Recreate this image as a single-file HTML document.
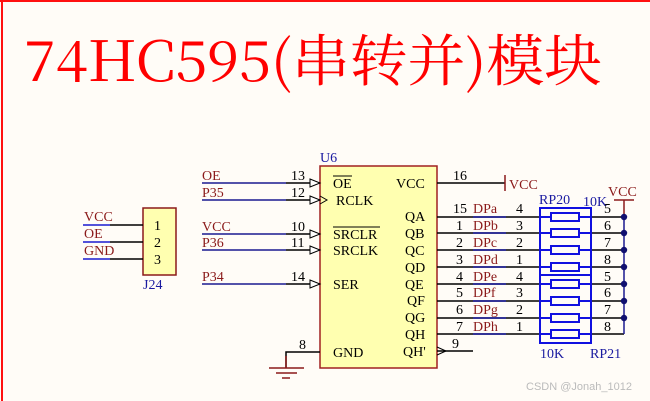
<!DOCTYPE html>
<html><head><meta charset="utf-8"><style>
html,body{margin:0;padding:0;background:#fffcf7;}
svg{display:block;}
.t{font-family:"Liberation Serif","Noto Serif CJK SC",serif;}
</style></head><body>
<svg width="650" height="401" viewBox="0 0 650 401" xmlns="http://www.w3.org/2000/svg">
<rect width="650" height="401" fill="#fffcf7"/>
<line x1="0" y1="1" x2="650" y2="1" stroke="#ff1010" stroke-width="2"/>
<line x1="2" y1="0" x2="2" y2="401" stroke="#ff1010" stroke-width="2"/>
<text x="24" y="81" font-family="Noto Serif CJK SC, serif" font-size="56" fill="#ff0000" textLength="578" lengthAdjust="spacingAndGlyphs">74HC595(串转并)模块</text>

<rect x="320" y="166" width="117" height="202" fill="#ffffb0" stroke="#a02020" stroke-width="1.5"/>
<text class="t" x="320" y="162" font-size="14" fill="#1a1aa0">U6</text>

<g class="t" font-size="14" fill="#000">
<text x="333" y="188">OE</text>
<line x1="333" y1="176" x2="352" y2="176" stroke="#000" stroke-width="1"/>
<text x="336" y="205">RCLK</text>
<text x="333" y="239">SRCLR</text>
<line x1="333" y1="227" x2="380" y2="227" stroke="#000" stroke-width="1"/>
<text x="333" y="255">SRCLK</text>
<text x="333" y="289">SER</text>
<text x="333" y="357">GND</text>
<text x="396" y="188">VCC</text>
<text x="405" y="221">QA</text>
<text x="405" y="238">QB</text>
<text x="405" y="255">QC</text>
<text x="405" y="272">QD</text>
<text x="405" y="289">QE</text>
<text x="407" y="305">QF</text>
<text x="405" y="322">QG</text>
<text x="405" y="339">QH</text>
<text x="403" y="356">QH'</text>
</g>

<g stroke-width="1.5" fill="none">
<line x1="202" y1="183" x2="286" y2="183" stroke="#1a1a90"/>
<line x1="286" y1="183" x2="320" y2="183" stroke="#000"/>
<line x1="202" y1="200" x2="286" y2="200" stroke="#1a1a90"/>
<line x1="286" y1="200" x2="320" y2="200" stroke="#000"/>
<line x1="202" y1="234" x2="286" y2="234" stroke="#1a1a90"/>
<line x1="286" y1="234" x2="320" y2="234" stroke="#000"/>
<line x1="202" y1="250" x2="286" y2="250" stroke="#1a1a90"/>
<line x1="286" y1="250" x2="320" y2="250" stroke="#000"/>
<line x1="202" y1="284" x2="286" y2="284" stroke="#1a1a90"/>
<line x1="286" y1="284" x2="320" y2="284" stroke="#000"/>
</g>
<g stroke="#000" stroke-width="1" fill="#fff">
<path d="M310 179 L320 183 L310 187 Z"/>
<path d="M310 196 L320 200 L310 204 Z"/>
<path d="M320 196 L327 200 L320 204" fill="none"/>
<path d="M310 230 L320 234 L310 238 Z"/>
<path d="M310 246 L320 250 L310 254 Z"/>
<path d="M310 280 L320 284 L310 288 Z"/>
<path d="M437 347 L446 351 L437 355" fill="none"/>
</g>
<g class="t" font-size="14">
<text x="202" y="180" fill="#8b1a1a">OE</text>
<text x="202" y="197" fill="#8b1a1a">P35</text>
<text x="202" y="231" fill="#8b1a1a">VCC</text>
<text x="202" y="247" fill="#8b1a1a">P36</text>
<text x="202" y="281" fill="#8b1a1a">P34</text>
<text x="291" y="180" fill="#000">13</text>
<text x="291" y="197" fill="#000">12</text>
<text x="291" y="231" fill="#000">10</text>
<text x="291" y="247" fill="#000">11</text>
<text x="291" y="281" fill="#000">14</text>
<text x="299" y="349" fill="#000">8</text>
</g>

<path d="M320 352 H286 V368" stroke="#000" stroke-width="1.5" fill="none"/>
<line x1="286" y1="356" x2="286" y2="368" stroke="#8b1a1a" stroke-width="1.5"/>
<g stroke="#8b1a1a" stroke-width="1.5">
<line x1="269" y1="368" x2="304" y2="368"/>
<line x1="276" y1="373" x2="297" y2="373"/>
<line x1="282" y1="378" x2="290" y2="378"/>
</g>

<line x1="437" y1="183" x2="505" y2="183" stroke="#000" stroke-width="1.5"/>
<line x1="505" y1="175" x2="505" y2="191" stroke="#8b1a1a" stroke-width="1.5"/>
<text class="t" x="453" y="180" font-size="14">16</text>
<text class="t" x="509" y="189" font-size="14" fill="#8b1a1a">VCC</text>

<line x1="437" y1="351" x2="473" y2="351" stroke="#000" stroke-width="1.5"/>
<text class="t" x="452" y="348" font-size="14">9</text>

<g stroke-width="1.5">
<line x1="437" y1="217" x2="540" y2="217" stroke="#000"/><line x1="473" y1="217" x2="506" y2="217" stroke="#1a1aa0"/>
<line x1="437" y1="233" x2="540" y2="233" stroke="#000"/><line x1="473" y1="233" x2="506" y2="233" stroke="#1a1aa0"/>
<line x1="437" y1="250" x2="540" y2="250" stroke="#000"/><line x1="473" y1="250" x2="506" y2="250" stroke="#1a1aa0"/>
<line x1="437" y1="267" x2="540" y2="267" stroke="#000"/><line x1="473" y1="267" x2="506" y2="267" stroke="#1a1aa0"/>
<line x1="437" y1="284" x2="540" y2="284" stroke="#000"/><line x1="473" y1="284" x2="506" y2="284" stroke="#1a1aa0"/>
<line x1="437" y1="301" x2="540" y2="301" stroke="#000"/><line x1="473" y1="301" x2="506" y2="301" stroke="#1a1aa0"/>
<line x1="437" y1="318" x2="540" y2="318" stroke="#000"/><line x1="473" y1="318" x2="506" y2="318" stroke="#1a1aa0"/>
<line x1="437" y1="334" x2="540" y2="334" stroke="#000"/><line x1="473" y1="334" x2="506" y2="334" stroke="#1a1aa0"/>
<line x1="591" y1="217" x2="624" y2="217" stroke="#000"/>
<line x1="591" y1="233" x2="624" y2="233" stroke="#000"/>
<line x1="591" y1="250" x2="624" y2="250" stroke="#000"/>
<line x1="591" y1="267" x2="624" y2="267" stroke="#000"/>
<line x1="591" y1="284" x2="624" y2="284" stroke="#000"/>
<line x1="591" y1="301" x2="624" y2="301" stroke="#000"/>
<line x1="591" y1="318" x2="624" y2="318" stroke="#000"/>
<line x1="591" y1="334" x2="624" y2="334" stroke="#000"/>
<line x1="624" y1="200" x2="624" y2="217" stroke="#8b1a1a"/>
<line x1="624" y1="217" x2="624" y2="334" stroke="#1a1a90"/>
<line x1="614" y1="200" x2="634" y2="200" stroke="#8b1a1a"/>
</g>
<g fill="#101070">
<circle cx="624" cy="217" r="3.2"/><circle cx="624" cy="233" r="3.2"/><circle cx="624" cy="250" r="3.2"/><circle cx="624" cy="267" r="3.2"/>
<circle cx="624" cy="284" r="3.2"/><circle cx="624" cy="301" r="3.2"/><circle cx="624" cy="318" r="3.2"/>
</g>
<text class="t" x="608" y="196" font-size="14" fill="#8b1a1a">VCC</text>

<rect x="540" y="208" width="51" height="135" fill="#fffcf7" stroke="#1010e0" stroke-width="2"/>
<line x1="540" y1="275" x2="591" y2="275" stroke="#1010e0" stroke-width="2"/>
<g stroke="#1010e0" stroke-width="2" fill="#fffcf7">
<line x1="540" y1="217" x2="591" y2="217"/><rect x="551" y="213" width="28" height="8"/>
<line x1="540" y1="233" x2="591" y2="233"/><rect x="551" y="229" width="28" height="8"/>
<line x1="540" y1="250" x2="591" y2="250"/><rect x="551" y="246" width="28" height="8"/>
<line x1="540" y1="267" x2="591" y2="267"/><rect x="551" y="263" width="28" height="8"/>
<line x1="540" y1="284" x2="591" y2="284"/><rect x="551" y="280" width="28" height="8"/>
<line x1="540" y1="301" x2="591" y2="301"/><rect x="551" y="297" width="28" height="8"/>
<line x1="540" y1="318" x2="591" y2="318"/><rect x="551" y="314" width="28" height="8"/>
<line x1="540" y1="334" x2="591" y2="334"/><rect x="551" y="330" width="28" height="8"/>
</g>
<g class="t" font-size="14">
<text x="539" y="204" fill="#1a1aa0">RP20</text>
<text x="583" y="206" fill="#1a1aa0">10K</text>
<text x="540" y="358" fill="#1a1aa0">10K</text>
<text x="590" y="358" fill="#1a1aa0">RP21</text>
</g>
<g class="t" font-size="14" fill="#000">
<text x="453" y="213">15</text><text x="456" y="230">1</text><text x="456" y="247">2</text><text x="456" y="264">3</text>
<text x="456" y="281">4</text><text x="456" y="297">5</text><text x="456" y="314">6</text><text x="456" y="331">7</text>
<text x="516" y="213">4</text><text x="516" y="230">3</text><text x="516" y="247">2</text><text x="516" y="264">1</text>
<text x="516" y="281">4</text><text x="516" y="297">3</text><text x="516" y="314">2</text><text x="516" y="331">1</text>
<text x="604" y="213">5</text><text x="604" y="230">6</text><text x="604" y="247">7</text><text x="604" y="264">8</text>
<text x="604" y="281">5</text><text x="604" y="297">6</text><text x="604" y="314">7</text><text x="604" y="331">8</text>
</g>
<g class="t" font-size="14" fill="#8b1a1a">
<text x="473" y="213">DPa</text><text x="473" y="230">DPb</text><text x="473" y="247">DPc</text><text x="473" y="264">DPd</text>
<text x="473" y="281">DPe</text><text x="473" y="297">DPf</text><text x="473" y="314">DPg</text><text x="473" y="331">DPh</text>
</g>

<rect x="143" y="208" width="33" height="67" fill="#ffffb0" stroke="#8b1a1a" stroke-width="1.5"/>
<g stroke-width="1.5">
<line x1="83" y1="225" x2="110" y2="225" stroke="#1a1ad0"/><line x1="110" y1="225" x2="143" y2="225" stroke="#000"/>
<line x1="83" y1="242" x2="110" y2="242" stroke="#1a1ad0"/><line x1="110" y1="242" x2="143" y2="242" stroke="#000"/>
<line x1="83" y1="259" x2="110" y2="259" stroke="#1a1ad0"/><line x1="110" y1="259" x2="143" y2="259" stroke="#000"/>
</g>
<g class="t" font-size="14">
<text x="84" y="221" fill="#8b1a1a">VCC</text>
<text x="84" y="238" fill="#8b1a1a">OE</text>
<text x="84" y="255" fill="#8b1a1a">GND</text>
<text x="154" y="230">1</text><text x="154" y="247">2</text><text x="154" y="264">3</text>
<text x="143" y="289" fill="#1a1aa0">J24</text>
</g>

<text x="526" y="390" font-family="Liberation Sans, sans-serif" font-size="11" fill="#bbbbbb">CSDN @Jonah_1012</text>
</svg>
</body></html>
